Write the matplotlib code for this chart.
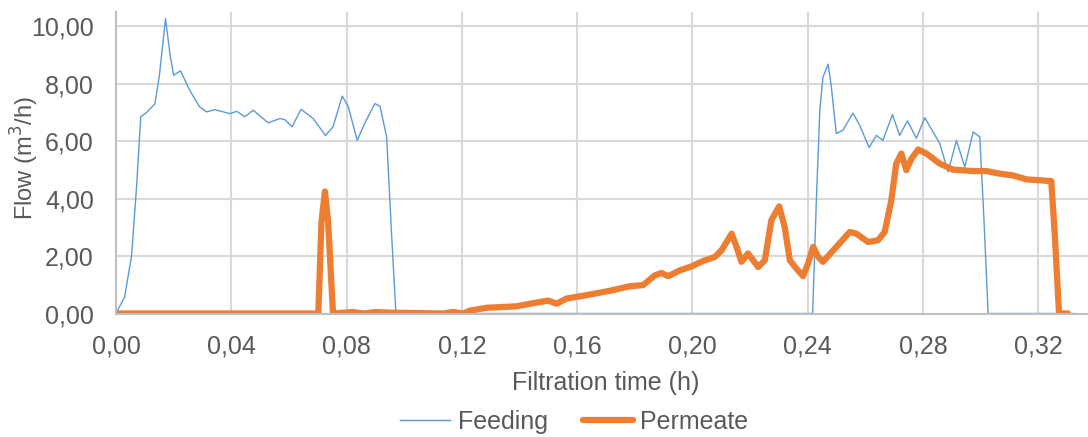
import matplotlib.pyplot as plt
from matplotlib.ticker import FuncFormatter, MultipleLocator

plt.rcParams['font.family'] = ['Liberation Sans', 'DejaVu Sans']

# Feeding flow (m3/h) vs filtration time (h)
feed_t = [0.0, 0.003, 0.0054, 0.0072, 0.0086, 0.0106, 0.0135, 0.015, 0.0172, 0.0187,
          0.020, 0.0224, 0.0256, 0.029, 0.0314, 0.0343, 0.0395, 0.0419, 0.0447, 0.0476,
          0.0528, 0.0569, 0.0586, 0.0611, 0.0642, 0.0684, 0.0727, 0.0753, 0.0785, 0.0806,
          0.0837, 0.0863, 0.0898, 0.0916, 0.0939, 0.0956, 0.0971, 0.0985,
          0.2417, 0.2430, 0.2442, 0.2453, 0.2471, 0.2482, 0.2499, 0.2522, 0.2557, 0.258,
          0.2613, 0.2638, 0.2661, 0.2694, 0.2719, 0.2746, 0.2777, 0.2806, 0.2835, 0.2858,
          0.2887, 0.2916, 0.2945, 0.2974, 0.2997, 0.3011, 0.3026, 0.332]
feed_q = [0.0, 0.58, 2.0, 4.5, 6.85, 7.0, 7.3, 8.24, 10.27, 9.05,
          8.3, 8.45, 7.77, 7.2, 7.02, 7.1, 6.96, 7.04, 6.85, 7.08,
          6.64, 6.79, 6.75, 6.5, 7.11, 6.79, 6.2, 6.5, 7.57, 7.2,
          6.03, 6.62, 7.31, 7.22, 6.15, 2.8, 0.05, 0.0,
          0.0, 3.95, 7.08, 8.24, 8.68, 7.89, 6.27, 6.38, 6.98, 6.56,
          5.78, 6.2, 6.03, 6.93, 6.2, 6.71, 6.1, 6.82, 6.32, 5.92,
          4.93, 6.03, 5.1, 6.32, 6.15, 3.37, 0.0, 0.0]

# Permeate flow (m3/h)
perm_t = [0.0, 0.0702, 0.0713, 0.0725, 0.0736, 0.0753, 0.082, 0.086, 0.090, 0.095,
          0.1135, 0.117, 0.1205, 0.1228, 0.1286, 0.139, 0.1447, 0.150, 0.1529, 0.1563,
          0.1633, 0.1713, 0.1783, 0.1829, 0.187, 0.1893, 0.1916, 0.1956, 0.1997, 0.2037,
          0.2078, 0.2101, 0.2136, 0.2153, 0.2170, 0.2193, 0.2228, 0.2251, 0.2274, 0.2301,
          0.232, 0.2338, 0.2361, 0.2384, 0.2401, 0.2419, 0.2436, 0.2453, 0.2494, 0.2546,
          0.2569, 0.2609, 0.2644, 0.2667, 0.2690, 0.2707, 0.2725, 0.2742, 0.2760, 0.2783,
          0.2812, 0.2858, 0.2904, 0.2974, 0.302, 0.3066, 0.3112, 0.3159, 0.3205, 0.3245,
          0.3257, 0.3272, 0.3303]
perm_q = [0.0, 0.0, 3.2, 4.25, 3.2, 0.0, 0.05, 0.0, 0.05, 0.03,
          0.0, 0.05, 0.0, 0.1, 0.2, 0.25, 0.36, 0.45, 0.34, 0.52,
          0.64, 0.79, 0.95, 0.99, 1.33, 1.41, 1.3, 1.5, 1.64, 1.83,
          1.97, 2.2, 2.78, 2.32, 1.8, 2.09, 1.62, 1.85, 3.25, 3.73,
          3.01, 1.85, 1.56, 1.3, 1.74, 2.32, 1.97, 1.8, 2.26, 2.84,
          2.78, 2.49, 2.55, 2.84, 3.94, 5.22, 5.57, 4.99, 5.39, 5.71,
          5.57, 5.22, 5.01, 4.96, 4.96, 4.87, 4.81, 4.67, 4.64, 4.61,
          2.78, 0.0, 0.0]

fig = plt.figure(figsize=(10.88, 4.37), dpi=100)
# plot area runs a little past the right edge of the picture, like the original
ax = fig.add_axes([0.1066, 0.2826, 0.9007, 0.69])

ax.plot(feed_t, feed_q, color='#5b9bd5', lw=1.0, label='Feeding')
ax.plot(perm_t, perm_q, color='#ed7d31', lw=4.5, label='Permeate',
        solid_joinstyle='round', solid_capstyle='round')

ax.set_xlim(0, 0.34)
ax.set_ylim(0, 10.5)
ax.xaxis.set_major_locator(MultipleLocator(0.04))
ax.yaxis.set_major_locator(MultipleLocator(2))
comma = FuncFormatter(lambda v, p: f'{v:.2f}'.replace('.', ','))
ax.xaxis.set_major_formatter(comma)
ax.yaxis.set_major_formatter(comma)

ax.grid(True, color='#d9d9d9', lw=1.5)
ax.set_axisbelow(True)
for s in ['top', 'right']:
    ax.spines[s].set_visible(False)
for s in ['left', 'bottom']:
    ax.spines[s].set_color('#bfbfbf')
    ax.spines[s].set_linewidth(1.5)
ax.tick_params(length=0, labelsize=18, colors='#595959')
ax.tick_params(axis='y', pad=16)
ax.tick_params(axis='x', pad=15)

ax.set_xlabel('Filtration time (h)', fontsize=18, color='#595959')
ax.xaxis.set_label_coords(0.5, -0.19)
ax.set_ylabel('Flow (m$^3$/h)', fontsize=17, color='#595959')
ax.yaxis.set_label_coords(-0.077, 0.516)

leg = fig.legend(loc='center', bbox_to_anchor=(0.528, 0.034), ncol=2, frameon=False,
                 fontsize=18, handlelength=2.0, handletextpad=0.3, columnspacing=1.4,
                 borderpad=0)
for t in leg.get_texts():
    t.set_color('#595959')

fig.savefig('out.png', dpi=100)
